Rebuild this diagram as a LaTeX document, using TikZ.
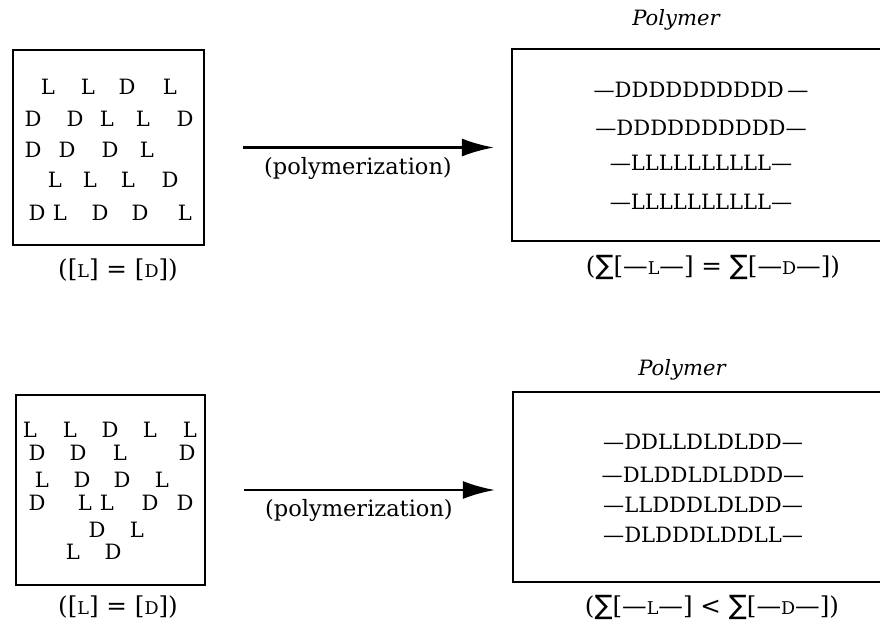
\documentclass[tikz,border=0pt]{standalone}
\usepackage{fontspec}
\setmainfont{DejaVu Serif}
\newfontfamily\symfont{DejaVu Sans}
\usetikzlibrary{positioning,arrows.meta}

\newcommand{\sml}[1]{{\fontsize{12.5}{14}\selectfont #1}}
\newcommand{\tsum}{{\symfont\fontsize{19}{20}\selectfont ∑}}

\begin{document}
\begin{tikzpicture}[x=0.025cm, y=-0.025cm,
  vessel/.style={draw, line width=1.8pt, inner sep=0pt},
  unit/.style={font=\fontsize{15}{17}\selectfont, inner sep=0pt},
  chain/.style={font=\fontsize{15}{17}\selectfont, inner sep=0pt},
  caption/.style={font=\fontsize{16}{19}\selectfont, inner sep=0pt},
  ratio/.style={font=\fontsize{17.5}{20}\selectfont, inner sep=0pt},
  heading/.style={font=\fontsize{15}{18}\selectfont\itshape, inner sep=0pt},
  reaction/.style={line width=1.7pt, -{Latex[length=0.8cm,width=0.45cm]},
    shorten <=0.95cm, shorten >=0.42cm},
]
\useasboundingbox (0,0) rectangle (880,624);

% racemic monomer mixtures
\node[vessel, minimum width=4.775cm, minimum height=4.875cm] (mix1) at (108.5,147.5) {};
\node[vessel, minimum width=4.725cm, minimum height=4.75cm] (mix2) at (110.5,490) {};

% polymer boxes (right edge runs off the page)
\node[vessel, minimum width=9.325cm, minimum height=4.8cm] (poly1) at (698.5,145) {};
\node[vessel, minimum width=9.3cm, minimum height=4.75cm] (poly2) at (699,487) {};

% monomers, first mixture
\foreach \x/\y/\c [count=\i] in {48/87/L, 88/87/L, 127/87/D, 170/87/L,
    33/119/D, 75/119/D, 107/119/L, 143/119/L, 185/119/D,
    33/150/D, 67/150/D, 110/150/D, 147/150/L,
    55/180/L, 90/180/L, 128/180/L, 170/180/D,
    37/213/D, 60/213/L, 100/213/D, 140/213/D, 185/213/L}
  \node[unit] (ma\i) at (\x,\y) {\c};

% monomers, second mixture
\foreach \x/\y/\c [count=\i] in {30/430/L, 70/430/L, 110/430/D, 150/430/L, 190/430/L,
    37/453/D, 78/453/D, 120/453/L, 187/453/D,
    42/480/L, 82/480/D, 122/480/D, 162/480/L,
    37/503/D, 85/503/L, 107/503/L, 150/503/D, 185/503/D,
    97/530/D, 137/530/L,
    73/552/L, 113/552/D}
  \node[unit] (mb\i) at (\x,\y) {\c};

% chains
\node[chain] (ca1) at (701,90)  {---DDDDDDDDDD\,---};
\node[chain] (ca2) at (701,128) {---DDDDDDDDDD---};
\node[chain] (ca3) at (701,163) {---LLLLLLLLLL---};
\node[chain] (ca4) at (701,202) {---LLLLLLLLLL---};

\node[chain] (cb1) at (703,442) {---DDLLDLDLDD---};
\node[chain] (cb2) at (703,475) {---DLDDLDLDDD---};
\node[chain] (cb3) at (703,505) {---LLDDDLDLDD---};
\node[chain] (cb4) at (703,535) {---DLDDDLDDLL---};

% labels
\node[heading] (tit1) at (676,20)  {Polymer};
\node[heading] (tit2) at (682,370) {Polymer};
\node[ratio] (eq1) at (118,270) {([\sml{L}] = [\sml{D}])};
\node[ratio] (eq2) at (118,607) {([\sml{L}] = [\sml{D}])};
\node[ratio] (sum1) at (713,267)
  {(\tsum[---\sml{L}---] = \tsum[---\sml{D}---])};
\node[ratio] (sum2) at (712,607)
  {(\tsum[---\sml{L}---] < \tsum[---\sml{D}---])};

% reactions
\draw[reaction] (mix1.east) -- (mix1.east -| poly1.west)
  node[caption, midway, below=6pt] (step1) {(polymerization)};
\draw[reaction] (mix2.east) -- (mix2.east -| poly2.west)
  node[caption, midway, below=6pt] (step2) {(polymerization)};
\end{tikzpicture}
\end{document}
